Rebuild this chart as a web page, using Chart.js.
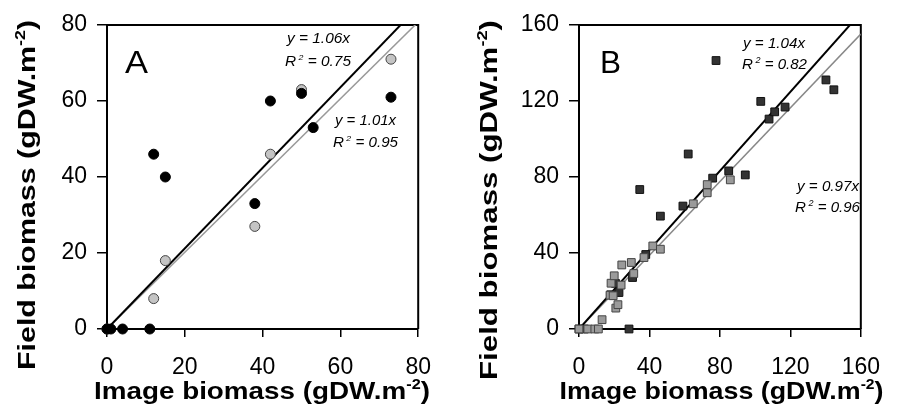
<!DOCTYPE html>
<html>
<head>
<meta charset="utf-8">
<script src="https://cdn.jsdelivr.net/npm/chart.js@4.4.1/dist/chart.umd.min.js"></script>
<style>
  body { margin: 0; background: #fff; }
  #wrap { position: relative; width: 897px; height: 404px; }
  canvas { position: absolute; top: 0; }
  #chartA { left: 0; }
  #chartB { left: 448px; }
</style>
</head>
<body>
<div id="wrap">
  <canvas id="chartA" width="448" height="404"></canvas>
  <canvas id="chartB" width="449" height="404"></canvas>
</div>
<script>
// panel A (circles)
const aBlackX = [0, 1, 4, 11, 12, 15, 38, 42, 50, 53, 73];
const aBlackY = [0, 0, 0, 0, 46, 40, 33, 60, 62, 53, 61];
const aGrayX = [0, 12, 15, 38, 42, 50, 73];
const aGrayY = [0, 8, 18, 27, 46, 63, 71];
const aSlopes = [1.06, 1.01];   // black, grey
const aR2 = ['0.75', '0.95'];
const aTicks = [0, 20, 40, 60, 80];

// panel B (squares)
const bDarkX = [0, 3, 18, 20.7, 22.7, 28.4, 30.4, 34.5, 37.9, 46.2, 59, 62, 75.9, 77.8, 85, 94.4, 103.2, 107.9, 111.1, 117, 140.2, 144.7];
const bDarkY = [0, 0, 18, 24, 19.2, 0, 27.1, 73.4, 39.2, 59.4, 64.7, 92.1, 79.4, 141.3, 83.2, 81.1, 119.8, 110.5, 114.3, 116.8, 131.1, 125.9];
const bGrayX = [0, 5, 9, 11, 13.1, 17.6, 18.2, 19.4, 20, 20.9, 22.1, 23.9, 24.3, 29.7, 31.1, 36.9, 41.9, 46.2, 64.9, 72.8, 72.8, 85.9];
const bGrayY = [0, 0, 0, 0, 4.9, 17.8, 24.1, 17.5, 28, 11, 12.8, 23.1, 33.7, 35, 29.2, 37.6, 43.7, 42, 65.9, 71.7, 76, 78.5];
const bSlopes = [1.04, 0.97];
const bR2 = ['0.82', '0.96'];
const bTicks = [0, 40, 80, 120, 160];

const FONT = 'Arial, "Liberation Sans", sans-serif';

function pts(xs, ys) {
    return xs.map((x, i) => ({ x: x, y: ys[i] }));
}

function fitLine(slope, max) {
    return [{ x: 0, y: 0 }, { x: max, y: slope * max }];
}

// draws text made of normal + superscript parts, squeezed/stretched to a width
function drawRich(ctx, parts, size, weight, x, base, width, align, rotated) {
    const f = (p) => (weight + ' ' + (p.sup ? Math.round(size * 0.6) : size) + 'px ' + FONT);
    let w = 0;
    parts.forEach(p => { ctx.font = f(p); w += ctx.measureText(p.t).width; });
    const k = width ? width / w : 1;
    ctx.save();
    ctx.translate(x, base);
    if (rotated) ctx.rotate(-Math.PI / 2);
    ctx.scale(k, 1);
    ctx.fillStyle = '#000';
    ctx.textAlign = 'left';
    ctx.textBaseline = 'alphabetic';
    let cx = align === 'center' ? -w / 2 : 0;
    parts.forEach(p => {
        ctx.font = f(p);
        ctx.fillText(p.t, cx, p.sup ? -size * 0.42 : 0);
        cx += ctx.measureText(p.t).width;
    });
    ctx.restore();
}

const unit = [{ t: '(gDW.m' }, { t: '-2', sup: true }, { t: ')' }];

const framePlugin = {
    id: 'frame',
    beforeDatasetsDraw(chart) {
        const a = chart.chartArea;
        const ctx = chart.ctx;
        ctx.save();
        ctx.strokeStyle = '#000';
        ctx.lineWidth = 2;
        ctx.beginPath();
        ctx.moveTo(a.left, a.top);
        ctx.lineTo(a.right, a.top);
        ctx.lineTo(a.right, a.bottom);
        ctx.stroke();
        ctx.restore();
    },
    afterDraw(chart, args, opts) {
        const ctx = chart.ctx;
        const o = opts.offset;
        drawRich(ctx, [{ t: 'Image biomass ' }].concat(unit), 24, 'bold', opts.xTitle[0] - o, opts.xTitle[1], opts.xTitle[2], 'center');
        drawRich(ctx, [{ t: 'Field biomass ' }].concat(unit), 24, 'bold', opts.yTitle[0] - o, opts.yTitle[1], opts.yTitle[2], 'center', true);
        drawRich(ctx, [{ t: opts.letter[0] }], 31, 'normal', opts.letter[1] - o, opts.letter[2], opts.letter[3], 'left');
        opts.notes.forEach(n => {
            const parts = n.r2
                ? [{ t: 'R' }, { t: ' 2', sup: true }, { t: ' = ' + n.r2 }]
                : [{ t: 'y = ' + n.slope.toFixed(2) + 'x' }];
            drawRich(ctx, parts, n.size, 'italic', n.x - o, n.base, n.w, 'left');
        });
    }
};

function makeScale(max, step, tickLen, pad, fitKey, fitVal) {
    return {
        type: 'linear',
        min: 0,
        max: max,
        ticks: {
            stepSize: step,
            padding: pad,
            color: '#000',
            maxRotation: 0,
            autoSkip: false,
            font: { family: FONT, size: 23 }
        },
        grid: {
            drawOnChartArea: false,
            drawTicks: true,
            tickLength: tickLen,
            color: '#000',
            lineWidth: 1.5
        },
        border: { display: true, color: '#000', width: 2 },
        afterFit: (scale) => { scale[fitKey] = fitVal; }
    };
}

function buildChart(id, cfg) {
    new Chart(document.getElementById(id), {
        type: 'scatter',
        data: { datasets: cfg.datasets },
        options: {
            responsive: false,
            animation: false,
            devicePixelRatio: 1,
            layout: { padding: { top: 25, right: cfg.padRight, left: 0, bottom: 0 } },
            scales: {
                x: makeScale(cfg.max, cfg.step, 8, 17, 'height', 75),
                y: makeScale(cfg.max, cfg.step, 10, 10, 'width', cfg.yWidth)
            },
            plugins: {
                legend: { display: false },
                tooltip: { enabled: false },
                frame: cfg.frame
            }
        },
        plugins: [framePlugin]
    });
}

buildChart('chartA', {
    max: aTicks[aTicks.length - 1],
    step: aTicks[1] - aTicks[0],
    padRight: 26,
    yWidth: 107,
    datasets: [
        { data: pts(aBlackX, aBlackY), pointRadius: 5, pointBackgroundColor: '#000', pointBorderColor: '#000', pointBorderWidth: 1, order: 0, clip: false },
        { data: pts(aGrayX, aGrayY), pointRadius: 5, pointBackgroundColor: '#c4c4c4', pointBorderColor: '#444', pointBorderWidth: 1, order: 1, clip: false },
        { data: fitLine(aSlopes[0], 80), showLine: true, pointRadius: 0, borderColor: '#000', borderWidth: 2, order: 2, clip: 0 },
        { data: fitLine(aSlopes[1], 80), showLine: true, pointRadius: 0, borderColor: '#999', borderWidth: 1.5, order: 3, clip: 0 }
    ],
    frame: {
        offset: 0,
        xTitle: [262, 399, 336],
        yTitle: [35, 195, 350],
        letter: ['A', 125, 73, 23],
        notes: [
            { slope: aSlopes[0], x: 287, base: 43, w: 63, size: 14 },
            { r2: aR2[0], x: 285, base: 66, w: 66, size: 14 },
            { slope: aSlopes[1], x: 335, base: 125, w: 61, size: 14 },
            { r2: aR2[1], x: 333, base: 147, w: 65, size: 14 }
        ]
    }
});

buildChart('chartB', {
    max: bTicks[bTicks.length - 1],
    step: bTicks[1] - bTicks[0],
    padRight: 21,
    yWidth: 131,
    datasets: [
        { data: pts(bGrayX, bGrayY), pointStyle: 'rect', pointRadius: 5.5, pointBackgroundColor: '#9a9a9a', pointBorderColor: '#444', pointBorderWidth: 1, order: 0, clip: false },
        { data: pts(bDarkX, bDarkY), pointStyle: 'rect', pointRadius: 5.5, pointBackgroundColor: '#333', pointBorderColor: '#111', pointBorderWidth: 1, order: 1, clip: false },
        { data: fitLine(bSlopes[0], 160), showLine: true, pointRadius: 0, borderColor: '#000', borderWidth: 2, order: 2, clip: 0 },
        { data: fitLine(bSlopes[1], 160), showLine: true, pointRadius: 0, borderColor: '#888', borderWidth: 1.5, order: 3, clip: 0 }
    ],
    frame: {
        offset: 448,
        xTitle: [721.5, 399, 324],
        yTitle: [497, 200, 360],
        letter: ['B', 600, 73, 21],
        notes: [
            { slope: bSlopes[0], x: 743, base: 48, w: 62, size: 15 },
            { r2: bR2[0], x: 742, base: 69, w: 65, size: 15 },
            { slope: bSlopes[1], x: 797, base: 191, w: 62, size: 15 },
            { r2: bR2[1], x: 795, base: 212, w: 65, size: 15 }
        ]
    }
});
</script>
</body>
</html>
